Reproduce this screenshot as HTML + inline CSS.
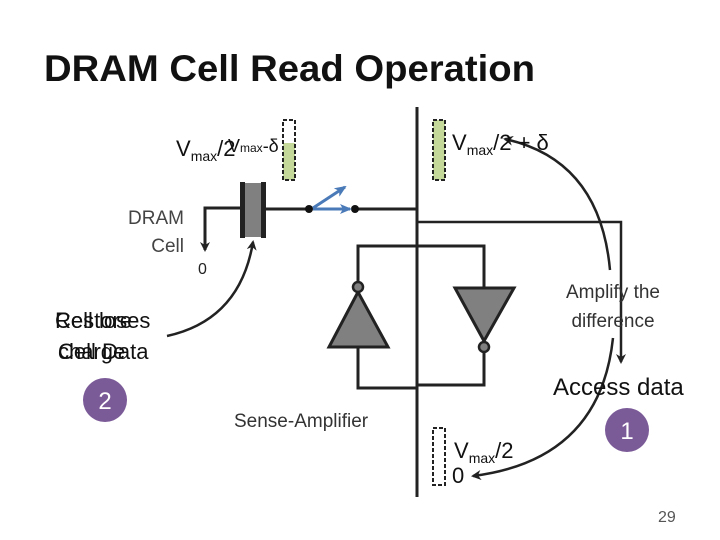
<!DOCTYPE html>
<html><head><meta charset="utf-8"><style>
body{margin:0;background:#fff}
svg{display:block}
text{font-family:"Liberation Sans",sans-serif}
</style></head><body>
<svg width="720" height="540" viewBox="0 0 720 540" xmlns="http://www.w3.org/2000/svg">
<defs>
<marker id="ah" markerWidth="10" markerHeight="10" refX="8" refY="5" orient="auto" markerUnits="userSpaceOnUse"><path d="M0,0 L10,5 L0,10 L3,5 Z" fill="#222"/></marker>
<marker id="bh" markerWidth="12" markerHeight="10" refX="10" refY="5" orient="auto" markerUnits="userSpaceOnUse"><path d="M0,0 L12,5 L0,10 L3,5 Z" fill="#4a7ab8"/></marker>
</defs>
<text x="44" y="81" font-size="37" font-weight="bold" fill="#111" textLength="491" lengthAdjust="spacingAndGlyphs">DRAM Cell Read Operation</text>

<g stroke="#222" stroke-width="3" fill="none">
<line x1="417" y1="107" x2="417" y2="497"/>
<polyline points="240,208 205,208 205,250" marker-end="url(#ah)"/>
<line x1="266" y1="209" x2="309" y2="209"/>
<line x1="355" y1="209" x2="417" y2="209"/>
<polyline points="417,246 358,246 358,282"/>
<polyline points="417,246 484,246 484,288"/>
<polyline points="358,347 358,388 417,388"/>
<polyline points="484,353 484,385 417,385"/>
<polyline points="417,222 621,222 621,362" stroke-width="2.5" marker-end="url(#ah)"/>
</g>
<rect x="242" y="183" width="22" height="54" fill="#808080"/>
<rect x="240" y="182" width="5" height="56" fill="#222"/>
<rect x="261" y="182" width="5" height="56" fill="#222"/>
<circle cx="309" cy="209" r="4" fill="#111"/>
<circle cx="355" cy="209" r="4" fill="#111"/>
<g stroke="#4a7ab8" stroke-width="3" fill="none">
<line x1="313" y1="208" x2="345" y2="187" marker-end="url(#bh)"/>
<line x1="313" y1="209" x2="350" y2="209" marker-end="url(#bh)"/>
</g>

<polygon points="358,292 329,347 388,347" fill="#808080" stroke="#222" stroke-width="3"/>
<circle cx="358" cy="287" r="5" fill="#808080" stroke="#222" stroke-width="2.5"/>
<polygon points="455,288 514,288 484,341" fill="#808080" stroke="#222" stroke-width="3"/>
<circle cx="484" cy="347" r="5" fill="#808080" stroke="#222" stroke-width="2.5"/>

<rect x="283" y="143" width="12" height="37" fill="#c4d89a"/>
<rect x="283" y="120" width="12" height="60" fill="none" stroke="#222" stroke-width="2" stroke-dasharray="4,2"/>
<rect x="433" y="120" width="12" height="60" fill="#c4d89a" stroke="#222" stroke-width="2" stroke-dasharray="4,2"/>
<rect x="433" y="428" width="12" height="57" fill="none" stroke="#222" stroke-width="2" stroke-dasharray="4,2"/>

<g stroke="#222" stroke-width="2.5" fill="none">
<path d="M167,336 Q240,320 253,242" marker-end="url(#ah)"/>
<path d="M610,270 Q600,160 505,139" marker-end="url(#ah)"/>
<path d="M613,338 Q600,460 473,476" marker-end="url(#ah)"/>
</g>

<g font-size="22" fill="#111">
<text x="176" y="156">V<tspan font-size="14" dy="5">max</tspan><tspan dy="-5">/2</tspan></text>
<text x="228" y="152" font-size="18">V<tspan font-size="12">max</tspan>-δ</text>
<text x="452" y="150">V<tspan font-size="14" dy="5">max</tspan><tspan dy="-5">/2 + δ</tspan></text>
<text x="454" y="458">V<tspan font-size="14" dy="5">max</tspan><tspan dy="-5">/2</tspan></text>
<text x="452" y="483">0</text>
</g>
<text x="198" y="274" font-size="16" fill="#222">0</text>
<g font-size="19" fill="#444" text-anchor="end">
<text x="184" y="224">DRAM</text>
<text x="184" y="252">Cell</text>
</g>
<g font-size="22" fill="#111">
<text x="55" y="328">Restore</text>
<text x="55" y="328">Cell loses</text>
<text x="58" y="359">Cell Data</text>
<text x="58" y="359">charge</text>
</g>
<text x="234" y="427" font-size="19" fill="#333">Sense-Amplifier</text>
<g font-size="19" fill="#333" text-anchor="middle">
<text x="613" y="298">Amplify the</text>
<text x="613" y="327">difference</text>
</g>
<text x="553" y="395" font-size="24" fill="#111">Access data</text>
<circle cx="627" cy="430" r="22" fill="#7b5a98"/>
<text x="627" y="439" font-size="24" fill="#fff" text-anchor="middle">1</text>
<circle cx="105" cy="400" r="22" fill="#7b5a98"/>
<text x="105" y="409" font-size="24" fill="#fff" text-anchor="middle">2</text>
<text x="658" y="522" font-size="16" fill="#555">29</text>
</svg>
</body></html>
